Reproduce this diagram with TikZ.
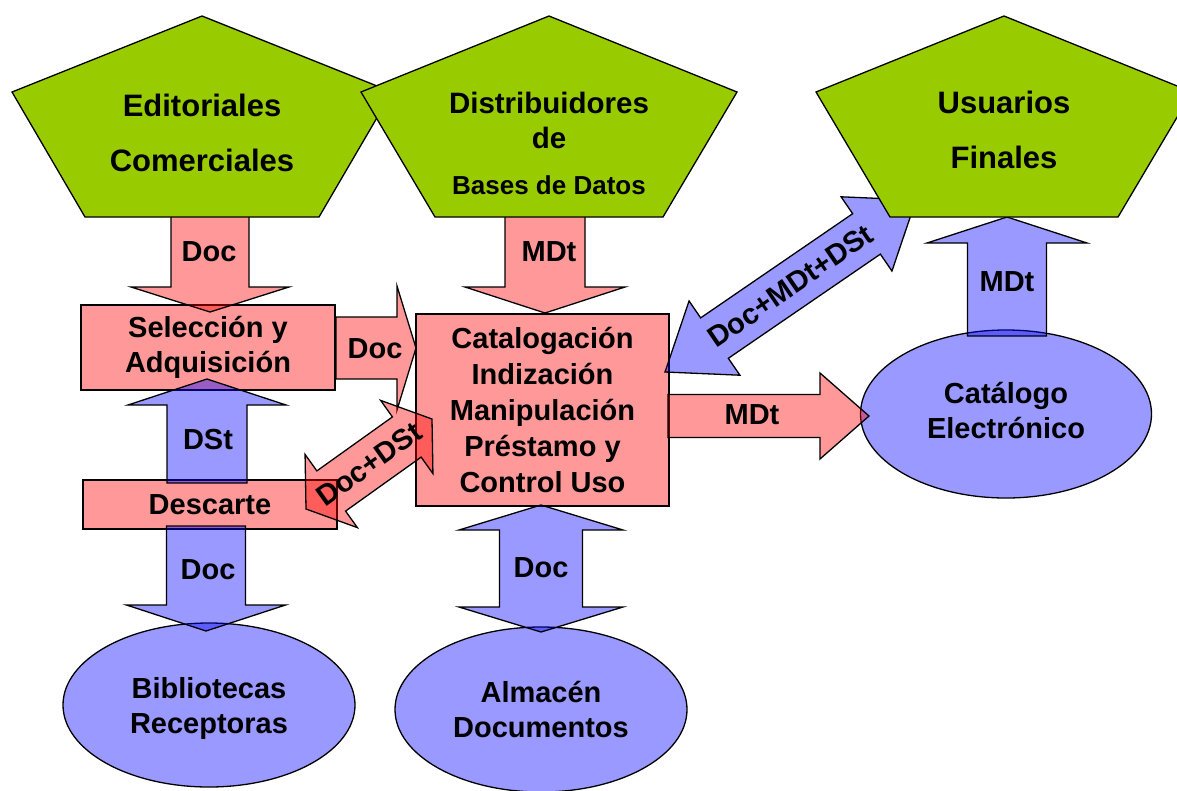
\documentclass[tikz,border=0pt]{standalone}
\usepackage{fontspec}
\setmainfont{Liberation Sans}
\usetikzlibrary{calc,shapes.geometric}

\definecolor{leafgreen}{RGB}{153,204,0}

% block arrow: #1 style, #2 tail, #3 tip, #4 shaft half width, #5 head half width, #6 head length
\newcommand\blockarrow[6]{%
  \coordinate (abase) at ($(#3)!#6!(#2)$);
  \path[#1] ($(#2)!#4!90:(#3)$) -- ($(abase)!#4!90:(#3)$) -- ($(abase)!#5!90:(#3)$) -- (#3)
    -- ($(abase)!#5!-90:(#3)$) -- ($(abase)!#4!-90:(#3)$) -- ($(#2)!#4!-90:(#3)$) -- cycle;
}
% double block arrow: #1 style, #2 first tip, #3 second tip, #4 shaft half width, #5 head half width, #6 head length
\newcommand\dblarrow[6]{%
  \coordinate (dbaseA) at ($(#2)!#6!(#3)$);
  \coordinate (dbaseB) at ($(#3)!#6!(#2)$);
  \path[#1] (#2) -- ($(dbaseA)!#5!90:(#3)$) -- ($(dbaseA)!#4!90:(#3)$) -- ($(dbaseB)!#4!90:(#3)$)
    -- ($(dbaseB)!#5!90:(#3)$) -- (#3) -- ($(dbaseB)!#5!-90:(#3)$) -- ($(dbaseB)!#4!-90:(#3)$)
    -- ($(dbaseA)!#4!-90:(#3)$) -- ($(dbaseA)!#5!-90:(#3)$) -- cycle;
}

\tikzset{
  outline/.style={draw=black, line width=1.3pt, line join=miter},
  pinkfill/.style={outline, fill=red, fill opacity=0.4, text opacity=1},
  bluefill/.style={outline, fill=blue, fill opacity=0.4, text opacity=1},
  pentshape/.style={outline, fill=leafgreen},
  lbl/.style={font=\bfseries\fontsize{29}{35}\selectfont, align=center, text=black, inner sep=0pt},
  title/.style={lbl, font=\bfseries\fontsize{31}{55}\selectfont},
  box/.style={pinkfill, lbl},
  oval/.style={bluefill, lbl, ellipse},
}

\begin{document}
\begin{tikzpicture}[x=1pt,y=-1pt]
\useasboundingbox (0,0) rectangle (1177,790);

% process boxes
\node[box, minimum width=254pt, minimum height=85pt] (sel) at (208,347.5) {Selección y\\Adquisición\rule[-4pt]{0pt}{0pt}};
\node[box, minimum width=254pt, minimum height=49pt] (desc) at (210,504.5) {Descarte};
\node[box, minimum width=253pt, minimum height=192pt, font=\bfseries\fontsize{29}{36.2}\selectfont] (cat) at (542.5,410)
  {Catalogación\\Indización\\Manipulación\\Préstamo y\\Control Uso};

% stores
\node[oval, minimum width=292pt, minimum height=164pt] (bib) at (209,705) {\rule{0pt}{27pt}Bibliotecas\\Receptoras};
\node[oval, minimum width=292pt, minimum height=165pt] (alm) at (541,709.5) {Almacén\\Documentos};
\node[oval, minimum width=291pt, minimum height=168pt] (cel) at (1006,414) {Catálogo\\Electrónico\rule[-8pt]{0pt}{0pt}};

% arrow end points
\coordinate (editBot) at (210,212);
\coordinate (selTop) at (210,312);
\coordinate (distBot) at (545,212);
\coordinate (catTop) at (545,313);
\coordinate (selRight) at (336,348);
\coordinate (catLeft) at (416,348);
\coordinate (descTop) at (207,483);
\coordinate (selBot) at (207,379);
\coordinate (descBot) at (206,526);
\coordinate (bibTop) at (206,631);
\coordinate (catBot) at (541,505);
\coordinate (almTop) at (541,632);
\coordinate (catRight) at (668,416);
\coordinate (celLeft) at (869,416);
\coordinate (catCorner) at (665,372);
\coordinate (usuCorner) at (916,200);
\coordinate (descEnd) at (306,509);
\coordinate (catEdge) at (432,419);
\coordinate (celTop) at (1007,336);
\coordinate (usuBot) at (1007,217);

% flows
\blockarrow{pinkfill}{editBot}{selTop}{39pt}{79pt}{25pt}
\blockarrow{pinkfill}{distBot}{catTop}{40pt}{80pt}{26pt}
\blockarrow{pinkfill}{selRight}{catLeft}{31pt}{62pt}{19pt}
\blockarrow{bluefill}{descTop}{selBot}{40pt}{79pt}{26pt}
\blockarrow{bluefill}{descBot}{bibTop}{39.5pt}{79.5pt}{26pt}
\dblarrow{bluefill}{catBot}{almTop}{41.5pt}{82pt}{25pt}
\blockarrow{pinkfill}{catRight}{celLeft}{21.5pt}{43pt}{49pt}
\dblarrow{bluefill}{catCorner}{usuCorner}{24.5pt}{45pt}{60pt}
\dblarrow{pinkfill}{descEnd}{catEdge}{24.7pt}{45pt}{31pt}
\blockarrow{bluefill}{celTop}{usuBot}{39.5pt}{80pt}{26pt}

% sources and users
\path[pentshape] (202,16) -- (392,92) -- (319,217) -- (85,217) -- (12,92) -- cycle;
\path[pentshape] (549,16) -- (737,92) -- (663,217) -- (435,217) -- (361,92) -- cycle;
\path[pentshape] (1004,16) -- (1192,92) -- (1118,217) -- (890,217) -- (816,92) -- cycle;
\node[title] (edit) at (202,132.5) {Editoriales\\Comerciales};
\node[lbl, font=\bfseries\fontsize{29.5}{35}\selectfont] (dist) at (549,120.5) {Distribuidores\\de};
\node[lbl, font=\bfseries\fontsize{26}{30}\selectfont] (distb) at (549,185) {Bases de Datos};
\node[title] (usu) at (1004,130) {Usuarios\\Finales};

% flow labels
\node[lbl] (l1) at (209,252) {Doc};
\node[lbl] (l2) at (549,252) {MDt};
\node[lbl] (l3) at (375,349) {Doc};
\node[lbl] (l4) at (208,440) {DSt};
\node[lbl] (l5) at (208,570) {Doc};
\node[lbl] (l6) at (541,568) {Doc};
\node[lbl] (l7) at (752,415) {MDt};
\node[lbl] (l8) at (1007,282) {MDt};
\path (catCorner) -- node[lbl, sloped] (l9) {Doc+MDt+DSt} (usuCorner);
\path (descEnd) -- node[lbl, sloped] (l10) {Doc+DSt} (catEdge);
\end{tikzpicture}
\end{document}
